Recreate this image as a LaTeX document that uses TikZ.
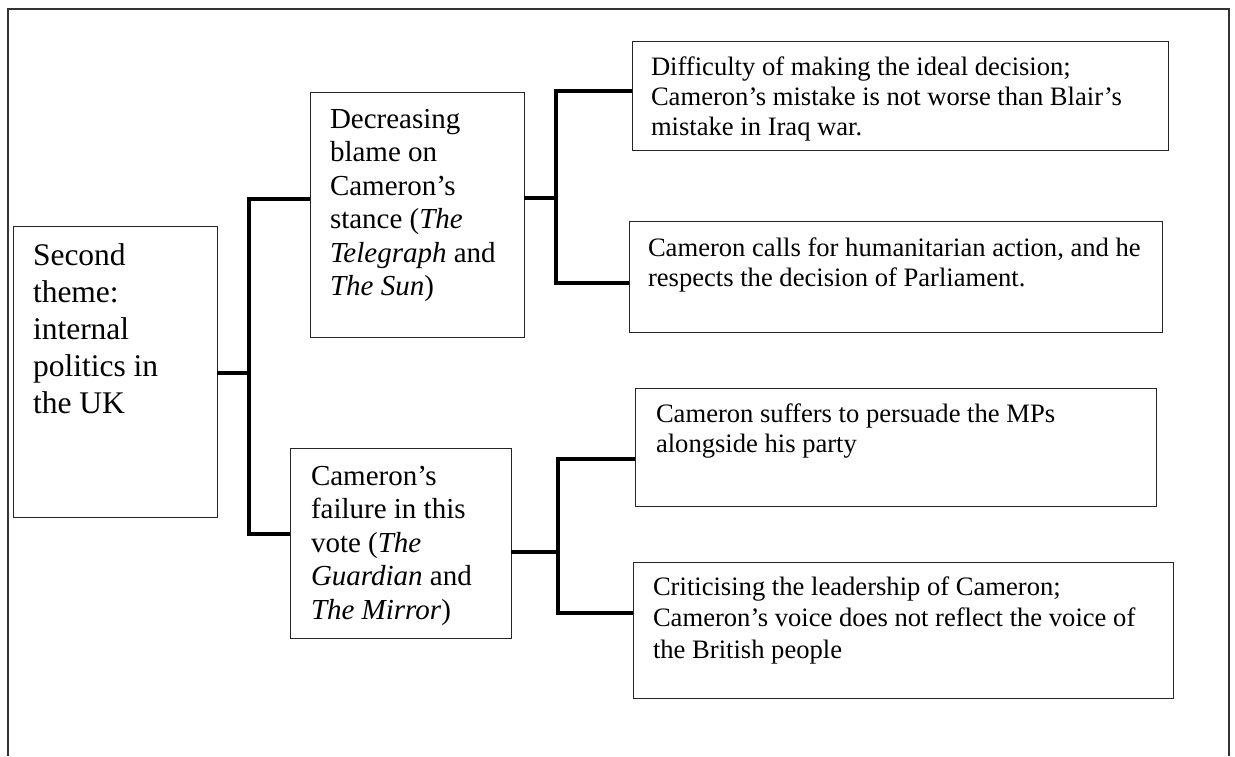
\documentclass[tikz,border=0pt]{standalone}
\usepackage{fontspec}
\setmainfont{Liberation Serif}
\newcommand{\bt}[7]{\parbox[c][#2pt][t]{#1pt}{\fontsize{#4}{#5}\selectfont\leftskip=#3pt\rightskip=0pt plus 1fil\relax\rule{0pt}{#6pt}#7}}
\tikzset{
  box/.style={draw=black!85, line width=0.9pt, inner sep=0pt, outer sep=0pt, anchor=north west},
  conn/.style={draw=black, line width=3.3pt, line join=miter},
  frame/.style={draw=black!80, line width=1.3pt}
}
\begin{document}
\begin{tikzpicture}[x=1pt,y=-1pt]
\path[use as bounding box] (0,0) rectangle (1235,756);
\draw[frame] (8,756) -- (8,9) -- (1229,9) -- (1229,756);

\node[box] (root) at (13,226) {\bt{204}{291}{20}{31.5}{37}{39}{Second\\theme:\\internal\\politics in\\the UK}};
\node[box] (mid1) at (310,92) {\bt{214}{245}{20}{29}{33.5}{36}{Decreasing\\blame on\\Cameron’s\\stance (\textit{The}\\\textit{Telegraph} and\\\textit{The Sun})}};
\node[box] (mid2) at (290,448) {\bt{221}{190}{21}{29}{33.5}{37}{Cameron’s\\failure in this\\vote (\textit{The}\\\textit{Guardian} and\\\textit{The Mirror})}};
\node[box] (leaf1) at (632,41) {\bt{536}{109}{19}{26.6}{30.3}{34}{Difficulty of making the ideal decision;\\Cameron’s mistake is not worse than Blair’s\\mistake in Iraq war.}};
\node[box] (leaf2) at (629,221) {\bt{533}{111}{19}{26.6}{30.8}{35}{Cameron calls for humanitarian action, and he\\respects the decision of Parliament.}};
\node[box] (leaf3) at (635,388) {\bt{521}{118}{21}{26.6}{30.3}{34}{Cameron suffers to persuade the MPs\\alongside his party}};
\node[box] (leaf4) at (633,562) {\bt{540}{136}{20}{26.6}{31.5}{33}{Criticising the leadership of Cameron;\\Cameron’s voice does not reflect the voice of\\the British people}};

\coordinate (fa) at (249,373);
\coordinate (ta) at (249,199);
\coordinate (tb) at (249,534);
\coordinate (fb) at (556,198);
\coordinate (tc) at (556,91);
\coordinate (td) at (556,283);
\coordinate (fc) at (558,552);
\coordinate (te) at (558,459);
\coordinate (tf) at (558,613);

\draw[conn] (root.east |- fa) -- (fa);
\draw[conn] (mid1.west |- ta) -- (ta) -- (tb) -- (mid2.west |- tb);
\draw[conn] (mid1.east |- fb) -- (fb);
\draw[conn] (leaf1.west |- tc) -- (tc) -- (td) -- (leaf2.west |- td);
\draw[conn] (mid2.east |- fc) -- (fc);
\draw[conn] (leaf3.west |- te) -- (te) -- (tf) -- (leaf4.west |- tf);
\end{tikzpicture}
\end{document}
